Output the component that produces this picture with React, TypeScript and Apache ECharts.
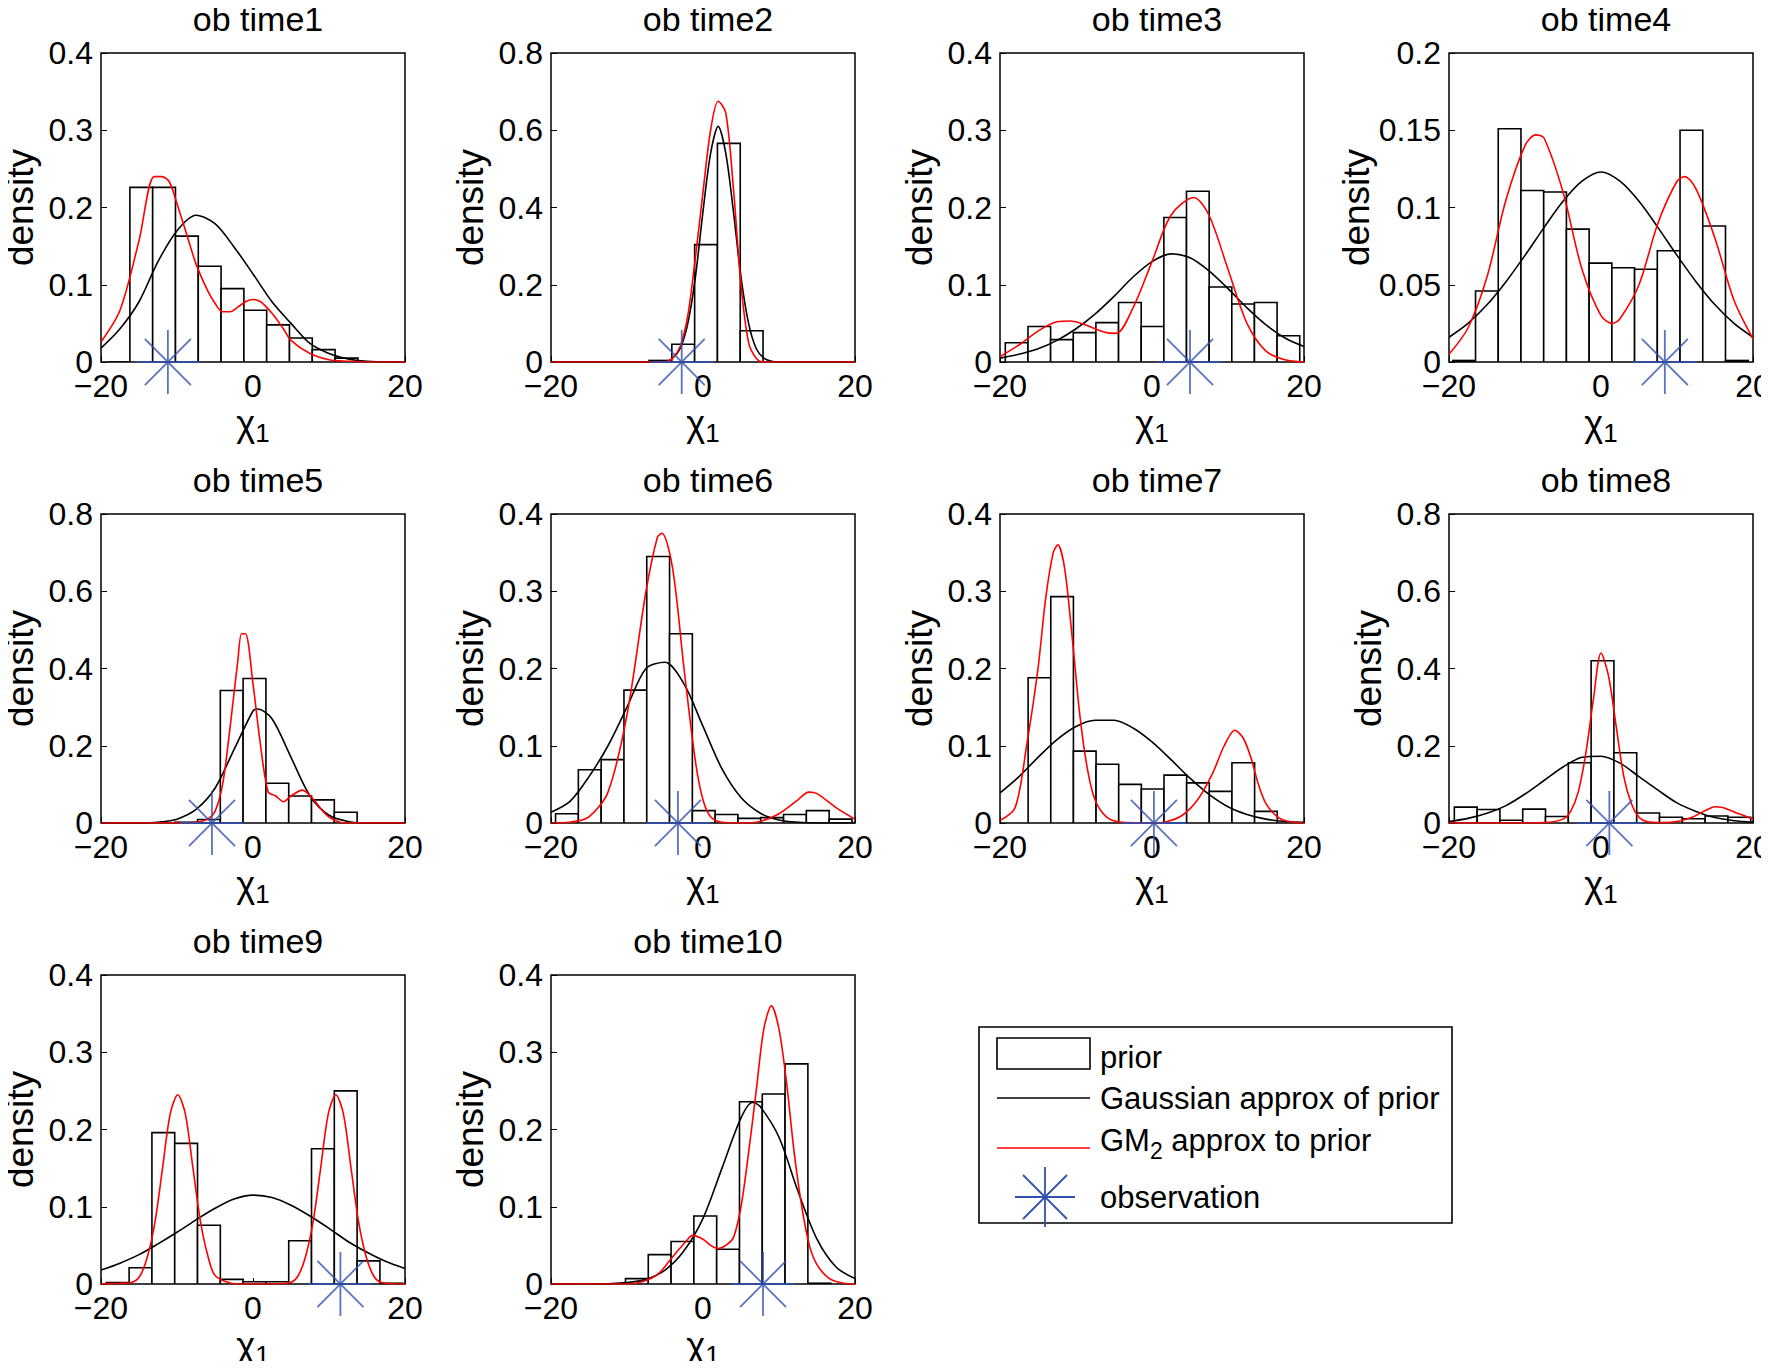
import React, { useEffect, useRef } from 'react';
import * as echarts from 'echarts';

// histogram bins: left edge of first bin, bin width, bar heights
const binStart = [-19.2, -7.1, -19.3, -19.5, -10.3, -19.4, -16.3, -19.3, -19.3, -10.2];
const binWidth = [3.0, 3.0, 2.98, 2.99, 3.0, 3.0, 2.98, 3.0, 3.0, 3.0];
const priorHeights: number[][] = [
  [0, 0.226, 0.226, 0.163, 0.124, 0.095, 0.067, 0.048, 0.031, 0.016, 0.005],
  [0.004, 0.046, 0.304, 0.566, 0.081],
  [0.025, 0.046, 0.029, 0.038, 0.051, 0.077, 0.046, 0.187, 0.221, 0.097, 0.075, 0.077, 0.034],
  [0.001, 0.046, 0.151, 0.111, 0.11, 0.086, 0.064, 0.061, 0.06, 0.072, 0.15, 0.088, 0.001],
  [0.002, 0.009, 0.343, 0.374, 0.103, 0.07, 0.06, 0.028],
  [0.012, 0.069, 0.082, 0.172, 0.345, 0.245, 0.016, 0.011, 0.006, 0.007, 0.011, 0.016, 0.005],
  [0.188, 0.293, 0.093, 0.076, 0.05, 0.044, 0.062, 0.052, 0.041, 0.078, 0.015],
  [0.041, 0.035, 0.007, 0.036, 0.017, 0.156, 0.42, 0.182, 0.026, 0.015, 0.011, 0.018, 0.015],
  [0.002, 0.021, 0.196, 0.182, 0.076, 0.006, 0.003, 0.003, 0.056, 0.175, 0.25, 0.03, 0.001],
  [0.007, 0.038, 0.055, 0.088, 0.045, 0.236, 0.246, 0.285, 0.001],
];

const gx = [-20, -17.5, -15, -12.5, -10, -7.5, -5, -2.5, 0, 2.5, 5, 7.5, 10, 12.5, 15, 17.5, 20];
const zip = (xs: number[], ys: number[]) => xs.map((x, i) => [x, ys[i]]);

// Gaussian approx of prior (black)
const gaussCurves: number[][][] = [
  zip(gx, [0.018, 0.043, 0.078, 0.13, 0.17, 0.19, 0.179, 0.149, 0.114, 0.078, 0.05, 0.024, 0.011, 0.004, 0.001, 0, 0]),
  zip([-20, -5, -4, -3, -2, -1, 0, 1, 2, 3, 4, 5, 6, 7, 8, 9, 10, 20],
    [0, 0, 0.01, 0.035, 0.1, 0.22, 0.39, 0.54, 0.61, 0.54, 0.39, 0.22, 0.1, 0.035, 0.01, 0.002, 0, 0]),
  zip(gx, [0.005, 0.01, 0.017, 0.028, 0.043, 0.062, 0.085, 0.11, 0.13, 0.14, 0.135, 0.118, 0.095, 0.07, 0.048, 0.031, 0.02]),
  zip(gx, [0.016, 0.025, 0.037, 0.052, 0.069, 0.087, 0.104, 0.117, 0.123, 0.117, 0.104, 0.087, 0.069, 0.052, 0.037, 0.025, 0.016]),
  zip([-20, -15, -12.5, -10, -7.5, -5, -2.5, 0, 0.6, 2.5, 5, 7.5, 10, 12.5, 15, 20],
    [0, 0, 0.002, 0.01, 0.035, 0.09, 0.19, 0.29, 0.295, 0.27, 0.17, 0.07, 0.02, 0.004, 0, 0]),
  zip(gx, [0.014, 0.028, 0.06, 0.1, 0.15, 0.2, 0.208, 0.18, 0.125, 0.07, 0.033, 0.013, 0.004, 0.001, 0, 0, 0]),
  zip(gx, [0.039, 0.06, 0.085, 0.108, 0.125, 0.133, 0.133, 0.123, 0.105, 0.082, 0.058, 0.037, 0.021, 0.011, 0.005, 0.002, 0.001]),
  zip(gx, [0.004, 0.012, 0.025, 0.045, 0.075, 0.11, 0.145, 0.17, 0.173, 0.155, 0.12, 0.085, 0.052, 0.03, 0.014, 0.006, 0.002]),
  zip(gx, [0.018, 0.027, 0.038, 0.052, 0.067, 0.083, 0.098, 0.11, 0.115, 0.112, 0.102, 0.088, 0.072, 0.055, 0.041, 0.029, 0.02]),
  zip([-20, -15, -10, -7.5, -5, -2.5, 0, 2.5, 5, 6.5, 7.5, 10, 12.5, 15, 17.5, 20],
    [0, 0, 0.002, 0.006, 0.018, 0.043, 0.085, 0.15, 0.215, 0.235, 0.23, 0.19, 0.12, 0.058, 0.022, 0.007]),
];

// GM2 approx to prior (red)
const gmCurves: number[][][] = [
  zip([-20, -17.5, -15, -13, -12, -11, -10, -8.75, -7.5, -6, -5, -4, -3, -2, -1, 0, 1, 2.5, 4, 5, 7.5, 10, 12.5, 15, 20],
    [0.026, 0.067, 0.157, 0.24, 0.24, 0.233, 0.205, 0.166, 0.127, 0.093, 0.076, 0.065, 0.065, 0.071, 0.078, 0.081, 0.078, 0.063, 0.043, 0.028, 0.011, 0.003, 0.001, 0, 0]),
  zip([-20, -5, -4, -3, -2, -1, 0, 1, 2, 3, 4, 5, 6, 7, 8, 20],
    [0, 0, 0.01, 0.04, 0.12, 0.27, 0.44, 0.6, 0.675, 0.645, 0.45, 0.2, 0.05, 0.01, 0, 0]),
  zip([-20, -17.5, -15, -12.5, -10.7, -9, -7.5, -6, -4.7, -2.5, 0, 2.5, 5.5, 7.5, 10, 12.5, 15, 17.5, 20],
    [0.007, 0.022, 0.04, 0.052, 0.053, 0.049, 0.043, 0.038, 0.037, 0.07, 0.13, 0.19, 0.213, 0.19, 0.12, 0.05, 0.014, 0.003, 0]),
  zip([-20, -17.5, -15, -12.5, -10, -8.6, -7.5, -5, -2.5, 0, 1.5, 2.5, 5, 7.5, 10, 11, 12.5, 15, 17.5, 20],
    [0.005, 0.022, 0.055, 0.105, 0.14, 0.147, 0.145, 0.11, 0.06, 0.03, 0.025, 0.028, 0.05, 0.09, 0.117, 0.12, 0.112, 0.08, 0.04, 0.015]),
  zip([-20, -10, -7.5, -6, -5, -4, -3, -2, -1.5, -1, 0, 1, 2, 3, 4, 5, 6.5, 8, 9, 10, 11, 12, 20],
    [0, 0, 0.002, 0.01, 0.03, 0.1, 0.25, 0.42, 0.49, 0.49, 0.36, 0.2, 0.08, 0.07, 0.055, 0.07, 0.085, 0.06, 0.035, 0.015, 0.005, 0, 0]),
  zip([-20, -17.5, -15, -12.5, -10, -7.5, -6, -5.4, -4, -2.5, -1, 0, 1, 2.5, 5, 7.5, 10, 12.5, 13.9, 15, 17.5, 20],
    [0, 0.001, 0.008, 0.04, 0.14, 0.3, 0.37, 0.375, 0.33, 0.2, 0.08, 0.03, 0.008, 0.001, 0, 0.002, 0.012, 0.03, 0.04, 0.038, 0.02, 0.005]),
  zip([-20, -18, -16.5, -15, -14, -13, -12.4, -11.5, -10.5, -9.5, -8.5, -7.5, -6, -4, 0, 2, 4, 6, 8, 9.5, 10.9, 12, 13, 14, 15, 16.5, 18, 20],
    [0.003, 0.02, 0.1, 0.2, 0.29, 0.35, 0.36, 0.33, 0.24, 0.14, 0.07, 0.03, 0.008, 0.001, 0, 0.002, 0.01, 0.03, 0.065, 0.1, 0.12, 0.11, 0.085, 0.05, 0.025, 0.008, 0.002, 0]),
  zip([-20, -10, -7.5, -5, -4, -3, -2, -1, 0, 1, 2, 3, 4, 5, 6, 8, 10, 12, 14, 15, 16, 18, 20],
    [0, 0, 0.001, 0.01, 0.03, 0.08, 0.18, 0.32, 0.44, 0.38, 0.25, 0.12, 0.05, 0.015, 0.004, 0.001, 0.004, 0.015, 0.035, 0.042, 0.04, 0.025, 0.01]),
  zip([-20, -17.5, -16, -14.9, -13.9, -12.9, -11.9, -10.9, -9.9, -8.9, -7.9, -6.9, -5.9, -4.9, -2, 2, 4.9, 5.9, 6.9, 7.9, 8.9, 9.9, 10.9, 11.9, 12.9, 13.9, 14.9, 15.9, 16.9, 20],
    [0, 0.001, 0.002, 0.01, 0.035, 0.08, 0.15, 0.22, 0.245, 0.22, 0.15, 0.08, 0.035, 0.01, 0, 0, 0.002, 0.01, 0.035, 0.08, 0.15, 0.22, 0.245, 0.22, 0.15, 0.08, 0.035, 0.01, 0.002, 0]),
  zip([-20, -10, -8, -6, -4, -2, -1.4, 0, 1, 2, 3, 4, 5, 6, 7, 8, 9, 10, 11, 12, 13, 14, 15, 16.5, 18, 20],
    [0, 0, 0.003, 0.012, 0.035, 0.058, 0.063, 0.058, 0.05, 0.046, 0.05, 0.06, 0.1, 0.17, 0.25, 0.33, 0.36, 0.33, 0.26, 0.17, 0.1, 0.05, 0.025, 0.008, 0.002, 0]),
];

const observations = [-11.2, -2.8, 5.0, 8.4, -5.4, -3.3, 0.25, 1.1, 11.5, 7.9];
const yMax = [0.4, 0.8, 0.4, 0.2, 0.8, 0.4, 0.4, 0.8, 0.4, 0.4];
const yStep = [0.1, 0.2, 0.1, 0.05, 0.2, 0.1, 0.1, 0.2, 0.1, 0.1];
const titles = observations.map((_, i) => `ob time${i + 1}`);

const FONT = '"Liberation Sans", Arial, sans-serif';
const LEFTS = [93, 543, 992, 1441];
const TOPS = [45, 506, 967];
const GW = 304;
const GH = 309;
const STAR = 'path://M0,-1L0,1M-1,0L1,0M-0.72,-0.72L0.72,0.72M-0.72,0.72L0.72,-0.72';
const BLUE = '#3050b0';

const App: React.FC = () => {
  const chartRef = useRef<HTMLDivElement | null>(null);

  useEffect(() => {
    if (!chartRef.current) return;
    const chart = echarts.init(chartRef.current, undefined, { renderer: 'svg' });

    const grid: any[] = [];
    const xAxis: any[] = [];
    const yAxis: any[] = [];
    const title: any[] = [];
    const series: any[] = [];

    titles.forEach((t, i) => {
      const left = LEFTS[i % 4];
      const top = TOPS[Math.floor(i / 4)];
      grid.push({
        left, top, width: GW, height: GH, show: true, outerBoundsMode: 'none',
        borderColor: '#000', borderWidth: 1.5, backgroundColor: '#fff',
      });
      title.push({
        text: t, left: left + GW / 2, top: top - 56, textAlign: 'center',
        textStyle: { fontFamily: FONT, fontSize: 34, fontWeight: 'normal', color: '#000' },
      });
      xAxis.push({
        type: 'value', gridIndex: i, min: -20, max: 20, interval: 20,
        axisLine: { show: false, onZero: false }, splitLine: { show: false },
        axisTick: { inside: true, length: 6, lineStyle: { color: '#000' } },
        axisLabel: {
          fontFamily: FONT, fontSize: 32, color: '#000', margin: 8,
          formatter: (v: number) => (v < 0 ? '\u2212' + Math.abs(v) : String(v)),
        },
        name: '{a|χ}{b|1}', nameLocation: 'middle', nameGap: 38,
        nameTextStyle: {
          rich: {
            a: { fontFamily: FONT, fontSize: 36, color: '#000' },
            b: { fontFamily: FONT, fontSize: 26, color: '#000', padding: [20, 0, 0, 0] },
          },
        },
      });
      yAxis.push({
        type: 'value', gridIndex: i, min: 0, max: yMax[i], interval: yStep[i],
        axisLine: { show: false, onZero: false }, splitLine: { show: false },
        axisTick: { inside: true, length: 6, lineStyle: { color: '#000' } },
        axisLabel: {
          fontFamily: FONT, fontSize: 32, color: '#000', margin: 8,
          formatter: (v: number) => String(Math.round(v * 100) / 100),
        },
        name: 'density', nameLocation: 'middle', nameGap: 62, nameRotate: 90,
        nameTextStyle: { fontFamily: FONT, fontSize: 37, color: '#000' },
      });

      const bars = priorHeights[i].map((h, k) => [
        binStart[i] + k * binWidth[i],
        binStart[i] + (k + 1) * binWidth[i],
        h,
      ]);
      series.push({
        type: 'custom', xAxisIndex: i, yAxisIndex: i, data: bars, clip: true,
        encode: { x: [0, 1], y: 2 },
        renderItem: (_p: any, api: any) => {
          const a = api.coord([api.value(0), api.value(2)]);
          const b = api.coord([api.value(1), 0]);
          return {
            type: 'rect',
            shape: { x: a[0], y: a[1], width: b[0] - a[0], height: b[1] - a[1] },
            style: { fill: '#fff', stroke: '#000', lineWidth: 1.6 },
          };
        },
      });
      series.push({
        type: 'line', xAxisIndex: i, yAxisIndex: i, data: gaussCurves[i],
        showSymbol: false, smooth: 0.3, lineStyle: { color: '#000', width: 1.6 },
      });
      series.push({
        type: 'line', xAxisIndex: i, yAxisIndex: i, data: gmCurves[i],
        showSymbol: false, smooth: 0.3, lineStyle: { color: '#ff0000', width: 1.6 },
      });
      series.push({
        type: 'scatter', xAxisIndex: i, yAxisIndex: i, data: [[observations[i], 0]],
        symbol: STAR, symbolSize: 64, z: 5,
        itemStyle: { color: 'none', borderColor: BLUE, borderWidth: 1.8 },
      });
    });

    // legend box
    const lx = 971;
    const ly = 1019;
    const txt = { fontFamily: FONT, fontSize: 31, fill: '#000' };
    const graphic: any[] = [
      { type: 'rect', shape: { x: lx, y: ly, width: 473, height: 196 }, style: { fill: '#fff', stroke: '#000', lineWidth: 1.6 } },
      { type: 'rect', shape: { x: lx + 18, y: ly + 11, width: 93, height: 31 }, style: { fill: '#fff', stroke: '#000', lineWidth: 1.6 } },
      { type: 'text', x: lx + 121, y: ly + 30, style: { ...txt, text: 'prior', verticalAlign: 'middle' } },
      { type: 'line', shape: { x1: lx + 18, y1: ly + 71, x2: lx + 111, y2: ly + 71 }, style: { stroke: '#000', lineWidth: 1.6 } },
      { type: 'text', x: lx + 121, y: ly + 71, style: { ...txt, text: 'Gaussian approx of prior', verticalAlign: 'middle' } },
      { type: 'line', shape: { x1: lx + 18, y1: ly + 121, x2: lx + 111, y2: ly + 121 }, style: { stroke: '#ff0000', lineWidth: 1.6 } },
      {
        type: 'text', x: lx + 121, y: ly + 92,
        style: {
          text: '{a|GM}{b|2}{a| approx to prior}',
          rich: {
            a: { fontFamily: FONT, fontSize: 31, color: '#000' },
            b: { fontFamily: FONT, fontSize: 23, color: '#000', padding: [20, 0, 0, 0] },
          },
        },
      },
      { type: 'line', shape: { x1: lx + 66, y1: ly + 140, x2: lx + 66, y2: ly + 200 }, style: { stroke: BLUE, lineWidth: 1.8 } },
      { type: 'line', shape: { x1: lx + 36, y1: ly + 170, x2: lx + 96, y2: ly + 170 }, style: { stroke: BLUE, lineWidth: 1.8 } },
      { type: 'line', shape: { x1: lx + 44, y1: ly + 148, x2: lx + 88, y2: ly + 192 }, style: { stroke: BLUE, lineWidth: 1.8 } },
      { type: 'line', shape: { x1: lx + 44, y1: ly + 192, x2: lx + 88, y2: ly + 148 }, style: { stroke: BLUE, lineWidth: 1.8 } },
      { type: 'text', x: lx + 121, y: ly + 170, style: { ...txt, text: 'observation', verticalAlign: 'middle' } },
    ];

    chart.setOption({
      animation: false,
      backgroundColor: '#fff',
      title, grid, xAxis, yAxis, series, graphic,
    });

    return () => {
      chart.dispose();
    };
  }, []);

  return <div ref={chartRef} style={{ width: 1753, height: 1353 }} />;
};

export default App;
